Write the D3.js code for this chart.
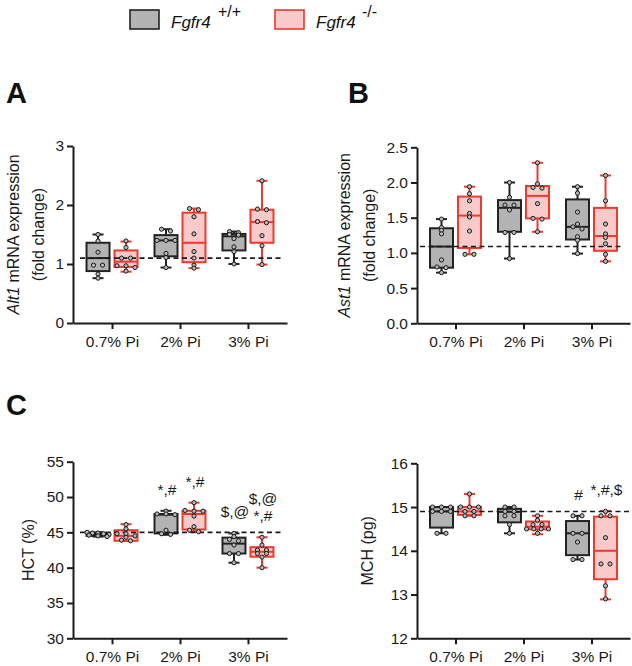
<!DOCTYPE html>
<html>
<head>
<meta charset="utf-8">
<script src="https://cdn.jsdelivr.net/npm/d3@7"></script>
<style>
  html, body { margin: 0; padding: 0; background: #fff; }
  svg { display: block; font-family: "Liberation Sans", Arial, sans-serif; }
</style>
</head>
<body>
<svg id="chart" width="632" height="666"></svg>
<script>
// ---------------- DATA ----------------
const categories = ["0.7% Pi", "2% Pi", "3% Pi"];
const genotypes = ["Fgfr4 +/+", "Fgfr4 -/-"];

// box stats per diet: [min, q1, median, q3, max]
const alt1WT = [[0.76, 0.88, 1.10, 1.36, 1.50], [0.94, 1.13, 1.40, 1.49, 1.59], [1.00, 1.23, 1.47, 1.51, 1.55]];
const alt1KO = [[0.87, 0.95, 1.04, 1.23, 1.38], [0.93, 1.03, 1.36, 1.87, 1.94], [0.99, 1.36, 1.71, 1.92, 2.41]];
const alt1WTPoints = [[1.50, 1.39, 1.20, 0.98, 0.98, 0.83, 0.76], [1.59, 1.56, 1.40, 1.40, 1.40, 1.18, 1.11, 0.94], [1.55, 1.53, 1.50, 1.49, 1.43, 1.29, 1.21, 1.00]];
const alt1KOPoints = [[1.39, 1.28, 1.10, 1.10, 0.97, 0.97, 0.94, 0.88], [1.94, 1.92, 1.80, 1.51, 1.21, 1.10, 0.98, 0.93], [2.41, 1.93, 1.92, 1.72, 1.70, 1.48, 1.31, 0.99]];
const alt1Ref = 1.10;
const alt1Ticks = [0, 1, 2, 3];

const ast1WT = [[0.72, 0.79, 1.09, 1.35, 1.48], [0.92, 1.30, 1.64, 1.75, 2.00], [0.99, 1.19, 1.37, 1.76, 1.94]];
const ast1KO = [[0.98, 1.07, 1.53, 1.80, 1.94], [1.30, 1.49, 1.81, 1.95, 2.28], [0.88, 1.03, 1.24, 1.64, 2.10]];
const ast1WTPoints = [[1.48, 1.36, 1.32, 1.27, 0.90, 0.80, 0.79, 0.72], [2.00, 1.79, 1.68, 1.68, 1.61, 1.29, 1.29, 0.92], [1.94, 1.85, 1.58, 1.41, 1.37, 1.34, 1.23, 1.18, 0.99]];
const ast1KOPoints = [[1.94, 1.84, 1.74, 1.56, 1.51, 1.31, 0.98, 0.98], [2.28, 1.98, 1.93, 1.92, 1.70, 1.49, 1.48, 1.30], [2.10, 1.74, 1.41, 1.27, 1.22, 1.13, 0.98, 0.88]];
const ast1Ref = 1.09;
const ast1Ticks = [0, 0.5, 1.0, 1.5, 2.0, 2.5];

const hctWT = [[44.4, 44.5, 44.7, 44.9, 45.0], [44.65, 44.85, 47.5, 47.6, 48.05], [40.7, 42.0, 43.4, 44.25, 44.85]];
const hctKO = [[43.8, 43.8, 44.5, 45.3, 46.15], [45.1, 45.4, 47.6, 48.05, 49.2], [40.0, 41.55, 42.25, 42.9, 44.3]];
const hctWTPoints = [[45.0, 44.9, 44.9, 44.8, 44.7, 44.6, 44.5, 44.4], [48.0, 47.6, 47.6, 47.5, 45.3, 44.8, 44.7], [44.85, 44.4, 44.0, 43.8, 43.2, 42.0, 42.0, 40.7]];
const hctKOPoints = [[46.1, 45.5, 44.8, 44.8, 44.5, 44.3, 43.9, 43.8], [49.2, 48.1, 48.0, 48.0, 47.3, 45.8, 45.3, 45.1], [44.3, 43.2, 42.5, 42.5, 42.0, 42.0, 41.5, 40.0]];
const hctRef = 45.0;
const hctTicks = [30, 35, 40, 45, 50, 55];
const hctWTSig = [[], ["*,#"], ["$,@"]];
const hctKOSig = [[], ["*,#"], ["*,#", "$,@"]];

const mchWT = [[14.4, 14.53, 14.9, 15.0, 15.0], [14.4, 14.65, 14.89, 14.96, 15.0], [13.8, 13.9, 14.4, 14.68, 14.8]];
const mchKO = [[14.8, 14.82, 14.9, 15.0, 15.3], [14.38, 14.49, 14.55, 14.67, 14.8], [12.89, 13.35, 14.0, 14.78, 14.91]];
const mchWTPoints = [[15.0, 15.0, 15.0, 14.9, 14.9, 14.9, 14.4, 14.4], [15.0, 15.0, 14.9, 14.9, 14.8, 14.8, 14.6, 14.4], [14.8, 14.8, 14.4, 14.4, 14.2, 13.8, 13.8]];
const mchKOPoints = [[15.3, 15.0, 15.0, 15.0, 14.9, 14.9, 14.8, 14.8], [14.8, 14.7, 14.6, 14.6, 14.5, 14.5, 14.5, 14.5, 14.4], [14.9, 14.8, 14.8, 14.3, 13.7, 13.7, 13.2, 12.9]];
const mchRef = 14.9;
const mchTicks = [12, 13, 14, 15, 16];
const mchWTSig = [[], [], ["#"]];
const mchKOSig = [[], [], ["*,#,$"]];

// ---------------- STYLE ----------------
const WT = { fill: "#b3b3b3", stroke: "#222222" };
const KO = { fill: "#f9caca", stroke: "#f0382b" };
const svg = d3.select("#chart");

function swarm(values, y, cx, r) {
  const pts = values.map(v => ({ v, py: y(v) })).sort((a, b) => a.py - b.py);
  const rows = [];
  pts.forEach(p => {
    const last = rows[rows.length - 1];
    if (last && Math.abs(p.py - last[0].py) < 2.6) last.push(p); else rows.push([p]);
  });
  const out = [];
  rows.forEach(row => {
    const k = row.length;
    const sp = k > 1 ? Math.min(9, 22 / (k - 1)) : 0;
    row.forEach((p, i) => out.push({ x: cx + (i - (k - 1) / 2) * sp, y: p.py }));
  });
  return out;
}

function panel(cfg) {
  const g = svg.append("g");
  const x = d3.scalePoint().domain(categories).range([cfg.left, cfg.right]).padding(cfg.pad);
  const y = d3.scaleLinear().domain([cfg.ticks[0], cfg.ticks[cfg.ticks.length - 1]]).range([cfg.bottom, cfg.top]);

  // axes
  const ya = g.append("g").attr("transform", `translate(${cfg.left},0)`)
    .call(d3.axisLeft(y).tickValues(cfg.ticks).tickFormat(d3.format(cfg.fmt)).tickSize(6).tickSizeOuter(0).tickPadding(3));
  const xa = g.append("g").attr("transform", `translate(0,${cfg.bottom})`)
    .call(d3.axisBottom(x).tickSize(6).tickSizeOuter(0).tickPadding(7));
  [ya, xa].forEach(a => {
    a.select(".domain").attr("stroke", "#1a1a1a").attr("stroke-width", 2);
    a.selectAll(".tick line").attr("stroke", "#1a1a1a").attr("stroke-width", 2);
    a.selectAll(".tick text").attr("fill", "#1a1a1a").attr("font-size", 15.5)
      .attr("font-family", '"Liberation Sans", Arial, sans-serif');
  });

  const bw = 23, off = 14, cap = 11;
  const groups = [
    { stats: cfg.wt, pts: cfg.wtPts, sty: WT, dx: -off, sig: cfg.wtSig },
    { stats: cfg.ko, pts: cfg.koPts, sty: KO, dx: off, sig: cfg.koSig }
  ];
  const boxes = g.append("g");
  groups.forEach(gr => {
    categories.forEach((c, i) => {
      const [mn, q1, md, q3, mx] = gr.stats[i];
      const cx = x(c) + gr.dx;
      const bg = boxes.append("g").attr("stroke", gr.sty.stroke).attr("stroke-width", 2);
      bg.append("line").attr("x1", cx).attr("x2", cx).attr("y1", y(mx)).attr("y2", y(mn));
      bg.append("line").attr("x1", cx - cap / 2).attr("x2", cx + cap / 2).attr("y1", y(mx)).attr("y2", y(mx));
      bg.append("line").attr("x1", cx - cap / 2).attr("x2", cx + cap / 2).attr("y1", y(mn)).attr("y2", y(mn));
      bg.append("rect").attr("x", cx - bw / 2).attr("width", bw)
        .attr("y", y(q3)).attr("height", Math.max(0.5, y(q1) - y(q3))).attr("fill", gr.sty.fill);
      bg.append("line").attr("x1", cx - bw / 2).attr("x2", cx + bw / 2).attr("y1", y(md)).attr("y2", y(md));
    });
  });

  // reference dashed line
  g.append("line").attr("x1", cfg.refX[0]).attr("x2", cfg.refX[1])
    .attr("y1", y(cfg.ref)).attr("y2", y(cfg.ref))
    .attr("stroke", "#1a1a1a").attr("stroke-width", 1.6).attr("stroke-dasharray", "5,3.5");

  // points
  groups.forEach(gr => {
    categories.forEach((c, i) => {
      const cx = x(c) + gr.dx;
      g.append("g").selectAll("circle").data(swarm(gr.pts[i], y, cx, 2.2)).join("circle")
        .attr("cx", d => d.x).attr("cy", d => d.y).attr("r", 2.1)
        .attr("fill", "#b8b8b8").attr("stroke", "#1a1a1a").attr("stroke-width", 1);
      if (gr.sig) {
        const top = y(gr.stats[i][4]);
        gr.sig[i].forEach((s, k) => {
          g.append("text").attr("x", cx + 1).attr("y", top - 16 - k * 17)
            .attr("text-anchor", "middle").attr("font-size", 15.5).attr("fill", "#1a1a1a").text(s);
        });
      }
    });
  });

  // y title
  const cy = (cfg.top + cfg.bottom) / 2;
  cfg.title.forEach((line, li) => {
    const t = g.append("text").attr("transform", `translate(${cfg.titleX[li]},${cy}) rotate(-90)`)
      .attr("text-anchor", "middle").attr("font-size", 16).attr("fill", "#1a1a1a");
    line.forEach(seg => t.append("tspan").attr("font-style", seg.i ? "italic" : "normal").text(seg.t));
  });

  if (cfg.letter) {
    svg.append("text").attr("x", cfg.letter[1]).attr("y", cfg.letter[2])
      .attr("font-size", 29).attr("font-weight", "bold").attr("fill", "#111").text(cfg.letter[0]);
  }
}

panel({
  left: 73, right: 287, top: 146, bottom: 323, pad: 0.574, ticks: alt1Ticks, fmt: "d",
  wt: alt1WT, ko: alt1KO, wtPts: alt1WTPoints, koPts: alt1KOPoints, ref: alt1Ref, refX: [80, 283],
  title: [[{ t: "Alt1", i: true }, { t: " mRNA expression" }], [{ t: "(fold change)" }]], titleX: [19, 44],
  letter: ["A", 6, 103]
});
panel({
  left: 417, right: 630, top: 147.3, bottom: 323.3, pad: 0.566, ticks: ast1Ticks, fmt: ".1f",
  wt: ast1WT, ko: ast1KO, wtPts: ast1WTPoints, koPts: ast1KOPoints, ref: ast1Ref, refX: [420, 624],
  title: [[{ t: "Ast1", i: true }, { t: " mRNA expression" }], [{ t: "(fold change)" }]], titleX: [350, 375],
  letter: ["B", 348, 103]
});
panel({
  left: 73, right: 287, top: 461.7, bottom: 638.3, pad: 0.574, ticks: hctTicks, fmt: "d",
  wt: hctWT, ko: hctKO, wtPts: hctWTPoints, koPts: hctKOPoints, ref: hctRef, refX: [80, 281],
  wtSig: hctWTSig, koSig: hctKOSig,
  title: [[{ t: "HCT (%)" }]], titleX: [34],
  letter: ["C", 6, 415]
});
panel({
  left: 417, right: 630, top: 463.3, bottom: 638.3, pad: 0.566, ticks: mchTicks, fmt: "d",
  wt: mchWT, ko: mchKO, wtPts: mchWTPoints, koPts: mchKOPoints, ref: mchRef, refX: [420, 630],
  wtSig: mchWTSig, koSig: mchKOSig,
  title: [[{ t: "MCH (pg)" }]], titleX: [373]
});

// legend
const legendItems = [
  { sty: WT, rx: 130, tx: 171, sup: "+/+", sx: 218 },
  { sty: KO, rx: 275, tx: 316, sup: "-/-", sx: 362 }
];
legendItems.forEach((it, i) => {
  svg.append("rect").attr("x", it.rx).attr("y", 10).attr("width", 29).attr("height", 19)
    .attr("fill", it.sty.fill).attr("stroke", it.sty.stroke).attr("stroke-width", 1.6);
  svg.append("text").attr("x", it.tx).attr("y", 28).attr("font-size", 17).attr("font-style", "italic")
    .attr("fill", "#111").text(genotypes[i].split(" ")[0]);
  svg.append("text").attr("x", it.sx).attr("y", 17).attr("font-size", 16)
    .attr("fill", "#111").text(it.sup);
});
</script>
</body>
</html>
